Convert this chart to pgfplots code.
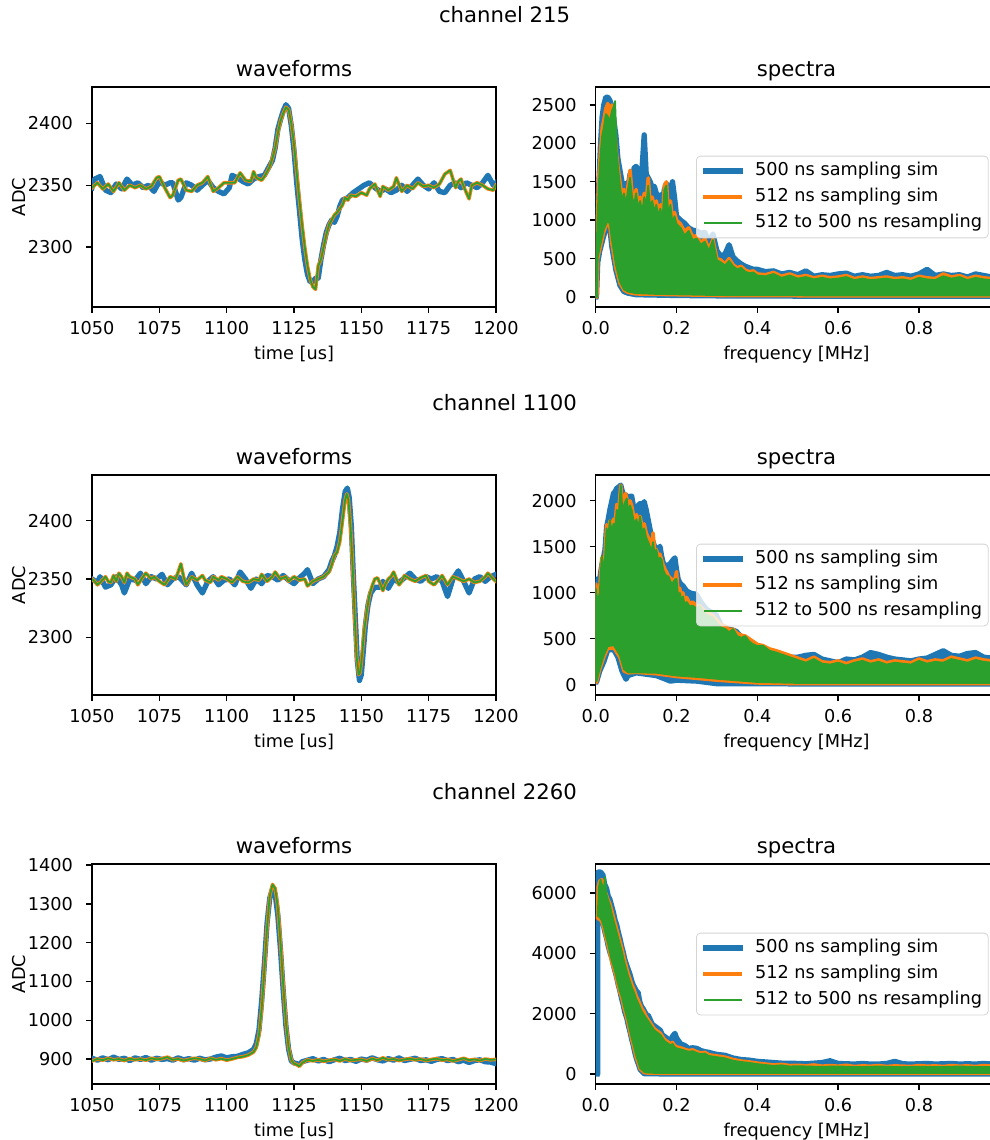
\documentclass[border=0pt]{standalone}
\usepackage{fontspec}
\setmainfont{DejaVu Sans}
\usepackage{pgfplots}
\pgfplotsset{compat=1.18}
\usepackage{pgfplotstable}
\definecolor{tabblue}{HTML}{1F77B4}
\definecolor{taborange}{HTML}{FF7F0E}
\definecolor{tabgreen}{HTML}{2CA02C}
\newcommand{\tickfont}{\fontsize{8.85bp}{10.6bp}\selectfont}
\newcommand{\titlefont}{\fontsize{10.6bp}{12.7bp}\selectfont}

% ---------------- waveforms ----------------
\pgfplotstableread{
x y
1050 2348
1051 2355
1053 2357
1055 2346
1057 2344
1059 2351
1061 2347
1063 2355
1065 2350
1067 2352
1069 2348
1071 2350
1073 2345
1075 2353
1077 2350
1079 2352
1080 2352
1082 2338
1083 2340
1085 2352
1087 2350
1089 2346
1091 2350
1093 2354
1095 2348
1097 2345
1099 2343
1101 2348
1102 2358
1104 2356
1106 2353
1108 2351
1110 2355
1112 2357
1114 2358
1115 2362
1117 2370
1118 2380
1119 2395
1120 2403
1121 2410
1122 2415
1123 2412
1124 2398
1125 2378
1126 2352
1127 2330
1128 2307
1129 2290
1130 2278
1131 2272
1132 2272
1133 2275
1134 2275
1135 2290
1136 2302
1137 2312
1138 2318
1139 2322
1140 2320
1141 2325
1142 2333
1143 2338
1145 2340
1147 2344
1149 2347
1151 2350
1153 2352
1155 2348
1157 2345
1159 2347
1161 2344
1163 2346
1165 2350
1167 2345
1169 2350
1171 2355
1173 2350
1175 2347
1177 2352
1179 2345
1181 2344
1183 2350
1185 2352
1187 2348
1189 2352
1191 2350
1193 2348
1195 2352
1197 2358
1199 2350
1200 2352
}\wfAb
\pgfplotstableread{
x y
1050 2348
1052 2352
1054 2347
1056 2351
1058 2345
1060 2352
1062 2346
1064 2350
1066 2348
1068 2350
1070 2347
1072 2349
1074 2356
1075 2357
1077 2348
1079 2340
1080 2342
1082 2354
1083 2355
1085 2346
1087 2345
1089 2350
1091 2352
1093 2357
1095 2345
1097 2348
1099 2352
1101 2352
1103 2352
1105 2360
1107 2354
1109 2353
1110 2361
1111 2356
1113 2354
1114 2357
1115 2361
1116 2365
1117 2372
1118 2380
1119 2392
1120 2402
1121 2408
1122 2413
1123 2411
1124 2400
1125 2383
1126 2360
1127 2338
1128 2318
1129 2300
1130 2285
1131 2274
1132 2268
1133 2266
1134 2285
1135 2290
1136 2300
1137 2310
1138 2318
1139 2322
1140 2326
1141 2328
1142 2331
1143 2334
1144 2340
1145 2338
1146 2342
1148 2341
1150 2344
1152 2342
1153 2347
1155 2351
1157 2341
1158 2349
1160 2346
1162 2349
1163 2356
1165 2345
1167 2350
1169 2347
1171 2352
1173 2349
1175 2350
1177 2348
1179 2351
1181 2359
1183 2362
1184 2355
1185 2348
1186 2353
1187 2355
1188 2349
1190 2339
1191 2350
1193 2352
1195 2350
1197 2347
1199 2346
1200 2350
}\wfAo
\pgfplotstableread{
x y
1050 2350
1052 2347
1053 2352
1055 2343
1057 2345
1059 2352
1061 2345
1062 2338
1064 2350
1066 2349
1068 2355
1070 2346
1072 2352
1074 2350
1076 2354
1078 2345
1080 2350
1082 2352
1083 2350
1085 2345
1087 2355
1089 2345
1091 2338
1093 2348
1095 2352
1097 2345
1099 2349
1101 2350
1103 2345
1105 2356
1107 2350
1109 2342
1111 2350
1113 2346
1115 2353
1117 2352
1119 2349
1121 2353
1123 2349
1125 2346
1127 2351
1129 2355
1130 2358
1132 2346
1134 2350
1136 2352
1138 2358
1139 2365
1140 2370
1141 2378
1142 2390
1143 2410
1144 2425
1144.8 2428
1145.5 2420
1146.3 2395
1147 2355
1147.8 2315
1148.5 2280
1149.3 2263
1150 2268
1150.8 2290
1151.5 2310
1152.5 2328
1153.5 2338
1155 2343
1157 2343
1158 2348
1160 2342
1162 2350
1164 2347
1166 2351
1168 2355
1170 2350
1172 2348
1174 2352
1176 2350
1178 2352
1180 2348
1182 2335
1184 2350
1186 2357
1188 2348
1190 2338
1192 2350
1194 2352
1196 2348
1198 2352
1200 2354
}\wfBb
\pgfplotstableread{
x y
1050 2350
1051 2348
1052 2345
1053 2347
1055 2352
1056 2348
1057 2347
1058 2353
1059 2348
1060 2355
1061 2352
1062 2347
1063 2355
1064 2352
1066 2350
1067 2345
1069 2352
1070 2355
1072 2350
1073 2352
1075 2348
1077 2345
1079 2352
1081 2350
1082 2356
1083 2363
1084 2352
1085 2345
1087 2352
1089 2349
1091 2353
1092 2349
1094 2347
1095 2352
1097 2349
1098 2352
1100 2350
1102 2347
1104 2352
1106 2348
1108 2347
1110 2350
1112 2349
1113 2354
1115 2348
1117 2352
1118 2356
1120 2350
1122 2352
1123 2348
1125 2352
1127 2349
1129 2350
1130 2344
1132 2348
1134 2350
1136 2352
1138 2356
1139 2362
1140 2370
1141 2373
1142 2382
1143 2400
1144 2418
1144.6 2423
1145.2 2418
1146 2395
1146.8 2360
1147.5 2320
1148.2 2285
1149 2268
1149.6 2270
1150.3 2285
1151 2305
1152 2322
1153 2336
1154 2344
1155 2350
1156 2351
1157 2346
1158 2340
1159 2346
1160 2350
1161 2352
1162 2356
1163 2350
1164 2345
1165 2348
1166 2353
1168 2350
1170 2348
1172 2351
1174 2353
1175 2348
1177 2345
1179 2350
1180 2353
1182 2345
1184 2352
1186 2350
1188 2348
1190 2350
1192 2347
1194 2348
1196 2352
1197 2355
1199 2350
1200 2348
}\wfBo
\pgfplotstableread{
x y
1050 902
1052 897
1054 903
1056 898
1058 905
1060 899
1062 902
1064 896
1066 903
1068 899
1070 904
1072 897
1074 902
1076 899
1078 901
1080 897
1082 903
1084 898
1086 901
1088 897
1090 902
1092 898
1094 900
1096 905
1098 908
1100 903
1102 906
1104 907
1106 912
1108 916
1110 925
1111 940
1112 975
1113 1050
1114 1145
1115 1250
1116 1315
1117 1338
1118 1325
1119 1270
1120 1180
1121 1075
1122 985
1123 925
1124 895
1125 890
1126 888
1127 886
1128 893
1130 897
1132 901
1134 895
1136 899
1138 893
1140 898
1142 902
1144 896
1146 899
1148 894
1150 900
1152 897
1154 903
1156 898
1158 895
1160 901
1162 897
1164 903
1166 896
1168 899
1170 902
1172 896
1174 898
1176 894
1178 899
1180 901
1182 896
1184 899
1186 893
1188 897
1190 891
1192 896
1194 898
1196 893
1198 892
1200 888
}\wfCb
\pgfplotstableread{
x y
1050 895
1052 900
1054 897
1056 902
1058 898
1060 900
1062 896
1064 901
1066 898
1068 900
1070 897
1072 902
1074 899
1076 901
1078 905
1080 898
1082 900
1084 896
1086 899
1088 902
1090 900
1092 896
1094 902
1096 898
1098 901
1100 897
1102 900
1104 904
1106 906
1108 910
1110 918
1111 930
1112 962
1113 1030
1114 1130
1115 1240
1116 1320
1117 1350
1118 1340
1119 1290
1120 1200
1121 1090
1122 995
1123 930
1124 897
1125 888
1126 886
1127 881
1128 890
1130 898
1132 895
1134 898
1136 894
1138 897
1140 899
1142 895
1144 900
1146 896
1148 898
1150 899
1152 895
1154 901
1156 897
1158 903
1160 898
1162 900
1164 896
1166 899
1168 901
1170 898
1172 900
1174 896
1176 899
1178 901
1180 897
1182 899
1184 895
1186 898
1188 902
1190 897
1192 899
1194 896
1196 900
1198 898
1200 899
}\wfCo

% ---------------- spectra (outline of the dense traces) ----------------
\pgfplotstableread{
x y
0 0
0.003 900
0.008 1500
0.012 2000
0.016 2350
0.02 2500
0.025 2600
0.03 2600
0.035 2560
0.04 2480
0.045 2300
0.05 2100
0.055 1800
0.06 1650
0.065 1500
0.07 1450
0.075 1480
0.08 1420
0.085 1600
0.09 1450
0.095 1680
0.1 1700
0.105 1650
0.11 1550
0.115 1700
0.12 2110
0.125 1600
0.13 1550
0.135 1500
0.14 1420
0.145 1440
0.15 1350
0.155 1300
0.16 1330
0.165 1250
0.17 1400
0.175 1480
0.18 1350
0.185 1380
0.19 1500
0.195 1300
0.2 1050
0.21 1000
0.22 960
0.23 900
0.24 870
0.25 860
0.26 830
0.27 840
0.28 720
0.29 820
0.3 600
0.31 530
0.32 560
0.33 680
0.34 520
0.35 470
0.36 430
0.37 400
0.38 380
0.39 360
0.4 360
0.42 330
0.44 340
0.46 300
0.48 320
0.5 290
0.52 340
0.54 270
0.56 290
0.58 280
0.6 300
0.62 310
0.64 270
0.66 290
0.68 270
0.7 280
0.72 320
0.74 280
0.76 290
0.78 270
0.8 300
0.82 360
0.84 280
0.86 300
0.88 280
0.9 290
0.92 260
0.94 300
0.96 280
0.98 260
1.0 270
1.0 10
0.6 10
0.3 15
0.2 20
0.15 25
0.1 30
0.08 50
0.07 70
0.06 150
0.05 350
0.04 650
0.035 900
0.03 950
0.02 800
0.01 600
0.005 450
0.002 0
0 0
}\spAb
\pgfplotstableread{
x y
0 0
0.004 1000
0.008 1600
0.012 1900
0.016 2200
0.02 2300
0.025 2450
0.03 2520
0.035 2350
0.04 2500
0.045 2400
0.05 1950
0.055 1700
0.06 1500
0.065 1300
0.07 1400
0.075 1250
0.08 1450
0.085 1650
0.09 1350
0.095 1250
0.1 1400
0.105 1200
0.11 1300
0.115 1150
0.12 1350
0.125 1250
0.13 1550
0.135 1200
0.14 1300
0.145 1150
0.15 1250
0.155 1100
0.16 1200
0.165 1050
0.17 1450
0.175 1500
0.18 1100
0.185 1250
0.19 1000
0.195 1100
0.2 1000
0.21 950
0.22 850
0.23 900
0.24 780
0.25 800
0.26 700
0.27 760
0.28 620
0.29 750
0.3 500
0.31 480
0.32 430
0.33 500
0.34 420
0.35 380
0.36 400
0.37 350
0.38 330
0.39 340
0.4 300
0.42 290
0.44 320
0.46 270
0.48 300
0.5 260
0.52 280
0.54 250
0.56 270
0.58 250
0.6 260
0.62 280
0.64 240
0.66 260
0.68 240
0.7 250
0.72 260
0.74 240
0.76 250
0.78 230
0.8 270
0.82 250
0.84 240
0.86 300
0.88 260
0.9 280
0.92 240
0.94 270
0.96 250
0.98 240
1.0 250
1.0 15
0.6 15
0.3 20
0.2 30
0.15 35
0.1 40
0.08 60
0.07 90
0.06 180
0.05 380
0.04 700
0.035 920
0.03 980
0.02 850
0.01 620
0.005 500
0.003 0
0 0
}\spAo
\pgfplotstableread{
x y
0 0
0.004 950
0.008 1500
0.012 1850
0.016 2100
0.02 2200
0.025 2380
0.03 2350
0.035 2280
0.04 2420
0.045 2480
0.048 2550
0.052 1900
0.056 1650
0.06 1450
0.065 1250
0.07 1350
0.075 1200
0.08 1400
0.085 1550
0.09 1300
0.095 1200
0.1 1350
0.105 1150
0.11 1250
0.115 1100
0.12 1300
0.125 1200
0.13 1450
0.135 1150
0.14 1250
0.145 1100
0.15 1200
0.155 1050
0.16 1150
0.165 1000
0.17 1400
0.175 1450
0.18 1050
0.185 1200
0.19 950
0.195 1050
0.2 950
0.21 900
0.22 800
0.23 860
0.24 740
0.25 760
0.26 680
0.27 720
0.28 600
0.29 740
0.3 480
0.31 450
0.32 410
0.33 470
0.34 400
0.35 360
0.36 380
0.37 330
0.38 310
0.39 320
0.4 280
0.42 270
0.44 300
0.46 250
0.48 280
0.5 240
0.52 260
0.54 230
0.56 250
0.58 230
0.6 240
0.62 260
0.64 220
0.66 240
0.68 220
0.7 230
0.72 240
0.74 220
0.76 230
0.78 210
0.8 250
0.82 230
0.84 220
0.86 270
0.88 240
0.9 260
0.92 220
0.94 250
0.96 230
0.98 220
1.0 230
1.0 20
0.6 20
0.3 25
0.2 35
0.15 40
0.1 50
0.08 70
0.07 100
0.06 200
0.05 420
0.04 750
0.035 950
0.03 1000
0.02 880
0.01 650
0.005 520
0.003 0
0 0
}\spAg
\pgfplotstableread{
x y
0 30
0 1150
0.005 1100
0.01 1150
0.015 1300
0.02 1400
0.023 1470
0.027 1720
0.031 1800
0.035 1900
0.04 2000
0.044 2080
0.048 2100
0.052 2135
0.057 2150
0.062 2170
0.066 2100
0.07 2045
0.074 2060
0.077 2060
0.081 2000
0.085 2050
0.089 2050
0.093 1950
0.097 1900
0.101 1930
0.105 1950
0.11 1970
0.115 1950
0.12 1990
0.125 1900
0.13 1790
0.134 1700
0.138 1610
0.142 1550
0.146 1500
0.15 1470
0.155 1480
0.159 1505
0.163 1400
0.167 1325
0.172 1300
0.176 1290
0.18 1300
0.185 1320
0.19 1350
0.196 1380
0.2 1250
0.204 1150
0.208 1110
0.212 1090
0.216 1075
0.22 1050
0.225 1020
0.233 1000
0.24 990
0.249 985
0.26 900
0.274 820
0.286 790
0.298 760
0.31 650
0.323 605
0.335 600
0.348 580
0.36 520
0.37 500
0.381 460
0.395 420
0.414 390
0.43 330
0.447 280
0.46 300
0.47 310
0.48 300
0.5 300
0.52 320
0.54 330
0.56 280
0.58 260
0.6 240
0.62 280
0.64 270
0.66 300
0.68 350
0.7 330
0.72 300
0.74 280
0.76 270
0.78 260
0.8 280
0.82 290
0.84 330
0.86 370
0.88 320
0.9 310
0.92 340
0.94 350
0.96 300
0.98 290
1.0 300
1.0 10
0.5 10
0.3 12
0.25 40
0.2 50
0.185 40
0.15 100
0.1 130
0.08 100
0.075 60
0.065 150
0.055 300
0.045 380
0.03 380
0.02 250
0.01 150
0.002 30
0 30
}\spBb
\pgfplotstableread{
x y
0 30
0 1100
0.005 950
0.01 1050
0.015 1380
0.02 1300
0.023 1420
0.027 1740
0.031 1650
0.035 1780
0.04 1700
0.044 1800
0.048 1750
0.052 1960
0.057 1900
0.062 2170
0.066 1950
0.07 2000
0.074 2080
0.077 2020
0.081 1900
0.085 2000
0.089 1950
0.093 1850
0.097 1800
0.101 1850
0.105 1750
0.11 1830
0.115 1700
0.12 1750
0.125 1650
0.13 1600
0.134 1550
0.138 1500
0.142 1650
0.146 1450
0.15 1470
0.155 1400
0.159 1420
0.163 1360
0.167 1300
0.172 1250
0.176 1220
0.18 1180
0.185 1160
0.19 1140
0.196 1145
0.2 1230
0.204 1000
0.208 1050
0.212 950
0.216 1000
0.22 900
0.225 950
0.233 880
0.24 900
0.249 860
0.258 855
0.27 800
0.28 780
0.29 750
0.3 700
0.31 650
0.32 640
0.33 600
0.34 605
0.35 560
0.36 540
0.37 530
0.38 500
0.39 470
0.4 440
0.414 425
0.43 390
0.447 370
0.46 350
0.48 320
0.5 290
0.52 260
0.54 300
0.56 250
0.58 240
0.6 260
0.62 230
0.64 260
0.66 280
0.68 250
0.7 270
0.72 240
0.74 260
0.76 250
0.78 240
0.8 280
0.82 250
0.84 270
0.86 260
0.88 300
0.9 280
0.92 260
0.94 290
0.96 270
0.98 260
1.0 270
1.0 12
0.5 12
0.4 20
0.3 50
0.25 70
0.2 90
0.15 120
0.1 135
0.08 130
0.07 150
0.06 300
0.045 400
0.03 400
0.02 300
0.01 170
0.002 30
0 30
}\spBo
\pgfplotstableread{
x y
0 40
0 1050
0.005 900
0.01 1000
0.015 1400
0.02 1250
0.023 1380
0.027 1700
0.031 1600
0.035 1790
0.04 1650
0.044 1750
0.048 1700
0.052 1900
0.057 1850
0.062 2170
0.066 1900
0.07 1950
0.074 2000
0.077 2025
0.081 1850
0.085 1950
0.089 1900
0.093 1800
0.097 1750
0.101 1800
0.105 1700
0.11 1830
0.115 1650
0.12 1700
0.125 1600
0.13 1550
0.134 1500
0.138 1450
0.142 1550
0.146 1400
0.15 1470
0.155 1350
0.159 1380
0.163 1360
0.167 1250
0.172 1200
0.176 1180
0.18 1180
0.185 1120
0.19 1100
0.196 1145
0.2 1150
0.204 960
0.208 1000
0.212 920
0.216 960
0.22 870
0.225 900
0.233 850
0.24 860
0.249 830
0.258 855
0.27 770
0.28 750
0.29 730
0.3 670
0.31 620
0.32 610
0.33 570
0.34 605
0.35 530
0.36 510
0.37 530
0.38 470
0.39 440
0.4 420
0.414 425
0.43 370
0.447 350
0.46 330
0.48 300
0.5 270
0.52 240
0.54 280
0.56 230
0.58 220
0.6 240
0.62 210
0.64 240
0.66 260
0.68 230
0.7 250
0.72 220
0.74 240
0.76 230
0.78 220
0.8 260
0.82 230
0.84 250
0.86 240
0.88 280
0.9 260
0.92 240
0.94 270
0.96 250
0.98 240
1.0 250
1.0 20
0.5 20
0.4 30
0.3 65
0.25 85
0.2 100
0.15 130
0.1 135
0.08 135
0.07 170
0.06 320
0.045 430
0.03 420
0.02 320
0.01 180
0.002 40
0 40
}\spBg
\pgfplotstableread{
x y
0.003 0
0.004 6400
0.006 6700
0.012 6700
0.018 6600
0.022 6300
0.027 6150
0.031 5900
0.035 5800
0.04 5550
0.044 5350
0.048 5100
0.052 4950
0.056 4700
0.06 4500
0.064 4250
0.068 4050
0.072 3800
0.077 3600
0.081 3450
0.085 3300
0.089 3100
0.093 2950
0.097 2850
0.101 2750
0.105 2700
0.109 2400
0.113 2250
0.118 2150
0.122 2050
0.126 1950
0.13 1950
0.135 1800
0.14 1650
0.145 1600
0.15 1550
0.155 1500
0.16 1450
0.165 1300
0.17 1250
0.175 1200
0.18 1150
0.185 1100
0.19 1250
0.196 1350
0.2 1200
0.21 1000
0.22 950
0.23 850
0.24 870
0.25 850
0.26 780
0.27 740
0.28 720
0.29 680
0.3 650
0.32 620
0.34 530
0.36 480
0.38 460
0.4 420
0.42 400
0.44 380
0.46 360
0.48 360
0.5 350
0.52 340
0.54 360
0.56 380
0.58 440
0.6 350
0.62 340
0.64 330
0.66 350
0.68 330
0.7 330
0.72 350
0.74 420
0.76 340
0.78 330
0.8 340
0.82 350
0.84 330
0.86 340
0.88 350
0.9 330
0.92 340
0.94 330
0.96 350
0.98 330
1.0 340
1.0 0
0.2 0
0.12 10
0.11 150
0.105 350
0.101 500
0.097 700
0.093 950
0.089 1150
0.085 1400
0.081 1600
0.077 1850
0.072 2050
0.068 2300
0.064 2500
0.06 2750
0.056 2950
0.052 3200
0.048 3400
0.044 3600
0.04 3850
0.035 4050
0.031 4250
0.027 4500
0.023 4700
0.019 4950
0.015 5100
0.011 5200
0.007 5250
0.005 5200
0.005 0
0.003 0
}\spCb
\pgfplotstableread{
x y
0.005 5200
0.006 6200
0.01 6400
0.015 6450
0.02 6150
0.025 6000
0.03 5800
0.035 5650
0.04 5400
0.045 5150
0.05 4900
0.055 4650
0.06 4400
0.065 4150
0.07 3850
0.075 3600
0.08 3350
0.085 3150
0.09 2950
0.095 2800
0.1 2600
0.105 2450
0.11 2300
0.115 2150
0.12 2050
0.125 1900
0.13 1800
0.135 1700
0.14 1600
0.145 1500
0.15 1450
0.155 1400
0.16 1350
0.165 1250
0.17 1150
0.175 1100
0.18 1050
0.185 1000
0.19 1050
0.195 950
0.2 900
0.21 870
0.22 820
0.23 780
0.24 800
0.25 740
0.26 700
0.27 720
0.28 640
0.29 620
0.3 600
0.32 560
0.34 480
0.36 430
0.38 400
0.4 360
0.42 330
0.44 300
0.46 320
0.48 280
0.5 290
0.52 270
0.54 300
0.56 260
0.58 280
0.6 260
0.62 290
0.64 250
0.66 270
0.68 260
0.7 280
0.72 250
0.74 270
0.76 260
0.78 250
0.8 280
0.82 260
0.84 270
0.86 250
0.88 280
0.9 260
0.92 270
0.94 250
0.96 280
0.98 260
1.0 270
1.0 20
0.2 20
0.13 30
0.12 50
0.11 170
0.105 380
0.1 560
0.095 850
0.09 1100
0.085 1380
0.08 1700
0.075 1950
0.07 2200
0.065 2500
0.06 2700
0.055 2950
0.05 3250
0.045 3500
0.04 3700
0.035 4000
0.03 4300
0.025 4550
0.02 4850
0.015 5050
0.01 5150
0.005 5150
0.005 5200
}\spCo
\pgfplotstableread{
x y
0.005 5300
0.008 6200
0.012 6450
0.016 6250
0.02 6100
0.023 6530
0.027 5950
0.031 5750
0.035 5600
0.04 5300
0.045 5050
0.05 4800
0.055 4550
0.06 4300
0.065 4050
0.07 3750
0.075 3500
0.08 3250
0.085 3050
0.09 2850
0.095 2700
0.1 2500
0.105 2350
0.11 2200
0.115 2050
0.12 1950
0.125 1850
0.13 1750
0.135 1650
0.14 1550
0.145 1450
0.15 1400
0.155 1350
0.16 1300
0.165 1200
0.17 1100
0.175 1050
0.18 1000
0.185 950
0.19 1000
0.195 900
0.2 850
0.21 820
0.22 780
0.23 740
0.24 760
0.25 700
0.26 660
0.27 680
0.28 600
0.29 580
0.3 560
0.32 520
0.34 440
0.36 400
0.38 370
0.4 330
0.42 300
0.44 270
0.46 290
0.48 250
0.5 260
0.55 240
0.6 250
0.65 230
0.7 250
0.75 230
0.8 240
0.85 230
0.9 250
0.95 230
1.0 240
1.0 30
0.2 30
0.13 40
0.12 70
0.11 200
0.105 420
0.1 620
0.095 900
0.09 1150
0.085 1430
0.08 1750
0.075 2000
0.07 2250
0.065 2550
0.06 2750
0.055 3000
0.05 3300
0.045 3550
0.04 3750
0.035 4050
0.03 4350
0.025 4600
0.02 4900
0.015 5100
0.01 5200
0.005 5250
0.005 5300
}\spCg

\pgfplotsset{
  mplbase/.style={
    scale only axis,
    axis line style={line width=0.71bp, black},
    tick align=outside, tick pos=left,
    major tick length=3.1bp,
    tick style={line width=0.71bp, black},
    scaled ticks=false,
    tick label style={font=\tickfont},
    xticklabel style={anchor=base, inner sep=0pt, yshift=-10.5bp},
    yticklabel style={anchor=east, inner sep=0pt, xshift=-6.2bp},
    label style={font=\tickfont},
    xlabel style={at={(axis description cs:0.5,0)}, anchor=base, yshift=-26bp, inner sep=0pt},
    ylabel style={at={([xshift=-33.5bp]axis description cs:0,0.5)}, anchor=base, inner sep=0pt},
    every axis title shift=0pt,
    title style={font=\titlefont, at={(axis description cs:0.5,1)}, anchor=base, yshift=5.3bp, inner sep=0pt},
  },
  wave/.style={mplbase, width=202bp, height=110bp, xmin=1050, xmax=1200,
    xtick={1050,1075,1100,1125,1150,1175,1200},
    xticklabels={1050,1075,1100,1125,1150,1175,1200},
    xlabel={time [us]}, ylabel={ADC}, title={waveforms}},
  spec/.style={mplbase, width=200.85bp, height=110bp, xmin=0, xmax=0.994,
    xtick={0,0.2,0.4,0.6,0.8}, xticklabels={0.0,0.2,0.4,0.6,0.8},
    xlabel={frequency [MHz]}, title={spectra},
    legend cell align=left,
    legend image code/.code={\draw[##1] (0bp,0bp) -- (17.7bp,0bp);},
    legend style={at={(rel axis cs:1,0.5)}, anchor=east, xshift=-4.4bp,
      draw=black!17, fill=white, fill opacity=0.8, text opacity=1, draw opacity=1,
      rounded corners=2bp, inner xsep=3.1bp, inner ysep=3.2bp, row sep=4.4bp,
      font=\tickfont, nodes={inner sep=0pt, text depth=}, cells={anchor=west},
      /tikz/every odd column/.style={column sep=5.9bp}}},
  bl/.style={tabblue, line width=2.65bp, line join=round, line cap=rect},
  or/.style={taborange, line width=1.77bp, line join=round, line cap=rect},
  gr/.style={tabgreen, line width=0.885bp, line join=round, line cap=rect},
}

\begin{document}
\begin{tikzpicture}
% ===== row 1 : channel 215 =====
\node[anchor=base, font=\titlefont, inner sep=0pt] at (252.3bp,-11bp) {channel 215};
\begin{axis}[wave, at={(46bp,-43.5bp)}, anchor=north west,
  ymin=2251.7, ymax=2429.3, ytick={2300,2350,2400}, yticklabels={2300,2350,2400}]
\addplot[bl] table {\wfAb};
\addplot[or] table {\wfAo};
\addplot[gr] table {\wfAo};
\end{axis}
\begin{axis}[spec, at={(297.85bp,-43.5bp)}, anchor=north west,
  ymin=-130, ymax=2733, ytick={0,500,1000,1500,2000,2500}, yticklabels={0,500,1000,1500,2000,2500}]
\addplot[bl, fill=tabblue, forget plot] table {\spAb};
\addplot[or, fill=taborange, forget plot] table {\spAo};
\addplot[gr, fill=tabgreen, forget plot] table {\spAg};
\addlegendimage{bl}\addlegendentry{500 ns sampling sim}
\addlegendimage{or}\addlegendentry{512 ns sampling sim}
\addlegendimage{gr}\addlegendentry{512 to 500 ns resampling}
\end{axis}
% ===== row 2 : channel 1100 =====
\node[anchor=base, font=\titlefont, inner sep=0pt] at (252.3bp,-205bp) {channel 1100};
\begin{axis}[wave, at={(46bp,-237.5bp)}, anchor=north west,
  ymin=2250.5, ymax=2439.2, ytick={2300,2350,2400}, yticklabels={2300,2350,2400}]
\addplot[bl] table {\wfBb};
\addplot[or] table {\wfBo};
\addplot[gr] table {\wfBo};
\end{axis}
\begin{axis}[spec, at={(297.85bp,-237.5bp)}, anchor=north west,
  ymin=-111, ymax=2280, ytick={0,500,1000,1500,2000}, yticklabels={0,500,1000,1500,2000}]
\addplot[bl, fill=tabblue, forget plot] table {\spBb};
\addplot[or, fill=taborange, forget plot] table {\spBo};
\addplot[gr, fill=tabgreen, forget plot] table {\spBg};
\addlegendimage{bl}\addlegendentry{500 ns sampling sim}
\addlegendimage{or}\addlegendentry{512 ns sampling sim}
\addlegendimage{gr}\addlegendentry{512 to 500 ns resampling}
\end{axis}
% ===== row 3 : channel 2260 =====
\node[anchor=base, font=\titlefont, inner sep=0pt] at (252.3bp,-399.5bp) {channel 2260};
\begin{axis}[wave, at={(46bp,-432bp)}, anchor=north west,
  ymin=835.6, ymax=1402.6, ytick={900,1000,1100,1200,1300,1400}, yticklabels={900,1000,1100,1200,1300,1400}]
\addplot[bl] table {\wfCb};
\addplot[or] table {\wfCo};
\addplot[gr] table {\wfCo};
\end{axis}
\begin{axis}[spec, at={(297.85bp,-432bp)}, anchor=north west,
  ymin=-332, ymax=6967, ytick={0,2000,4000,6000}, yticklabels={0,2000,4000,6000}]
\addplot[bl, fill=tabblue, forget plot] table {\spCb};
\addplot[or, fill=taborange, forget plot] table {\spCo};
\addplot[gr, fill=tabgreen, forget plot] table {\spCg};
\addlegendimage{bl}\addlegendentry{500 ns sampling sim}
\addlegendimage{or}\addlegendentry{512 ns sampling sim}
\addlegendimage{gr}\addlegendentry{512 to 500 ns resampling}
\end{axis}
\pgfresetboundingbox
\useasboundingbox (0bp,0bp) rectangle (495bp,-570bp);
\end{tikzpicture}
\end{document}
